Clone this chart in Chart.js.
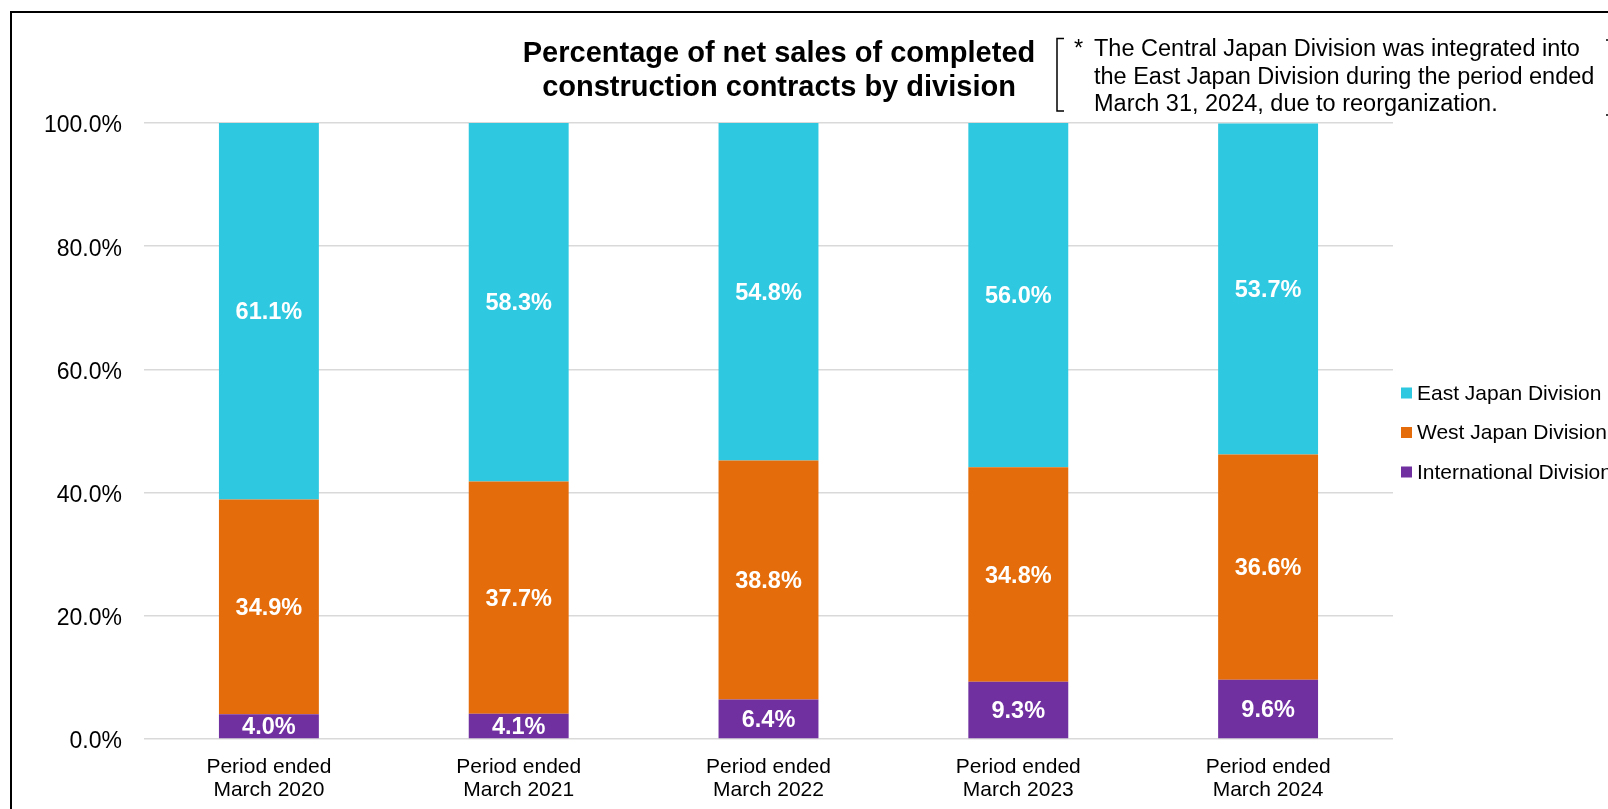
<!DOCTYPE html>
<html>
<head>
<meta charset="utf-8">
<script src="https://cdn.jsdelivr.net/npm/chart.js@4.4.1/dist/chart.umd.min.js"></script>
<style>
  html, body { margin: 0; padding: 0; background: #fff; overflow: hidden; }
  #chart { display: block; }
</style>
</head>
<body>
<canvas id="chart" width="1608" height="809"></canvas>
<script>
const categories = [
  ["Period ended", "March 2020"],
  ["Period ended", "March 2021"],
  ["Period ended", "March 2022"],
  ["Period ended", "March 2023"],
  ["Period ended", "March 2024"],
];
const eastJapan = [61.1, 58.3, 54.8, 56.0, 53.7];
const westJapan = [34.9, 37.7, 38.8, 34.8, 36.6];
const international = [4.0, 4.1, 6.4, 9.3, 9.6];

const titleLines = [
  "Percentage of net sales of completed",
  "construction contracts by division",
];
const noteLines = [
  "The Central Japan Division was integrated into",
  "the East Japan Division during the period ended",
  "March 31, 2024, due to reorganization.",
];

const FONT = "'Liberation Sans', Arial, sans-serif";

// labels inside each segment
const segmentLabels = {
  id: "segmentLabels",
  afterDatasetsDraw(chart) {
    const ctx = chart.ctx;
    ctx.save();
    ctx.fillStyle = "#fff";
    ctx.font = "bold 23.5px " + FONT;
    ctx.textAlign = "center";
    ctx.textBaseline = "middle";
    chart.data.datasets.forEach((ds, i) => {
      const meta = chart.getDatasetMeta(i);
      meta.data.forEach((bar, j) => {
        const { x, y, base } = bar.getProps(["x", "y", "base"], true);
        ctx.fillText(ds.data[j].toFixed(1) + "%", x, (y + base) / 2 + 1.5);
      });
    });
    ctx.restore();
  },
};

// frame, title, note and legend
const decor = {
  id: "decor",
  afterDraw(chart) {
    const ctx = chart.ctx;
    ctx.save();

    // outer frame (cut off on the right and bottom)
    ctx.strokeStyle = "#000";
    ctx.lineWidth = 2;
    ctx.beginPath();
    ctx.moveTo(11, 830);
    ctx.lineTo(11, 12);
    ctx.lineTo(1640, 12);
    ctx.stroke();

    // title
    ctx.fillStyle = "#000";
    ctx.font = "bold 29px " + FONT;
    ctx.textAlign = "center";
    ctx.textBaseline = "alphabetic";
    ctx.fillText(titleLines[0], 779, 62);
    ctx.fillText(titleLines[1], 779, 96);

    // note with brackets
    ctx.lineWidth = 1.5;
    ctx.beginPath();
    ctx.moveTo(1064, 38.5);
    ctx.lineTo(1057, 38.5);
    ctx.lineTo(1057, 111);
    ctx.lineTo(1064, 111);
    ctx.stroke();
    ctx.beginPath();
    ctx.moveTo(1606, 40);
    ctx.lineTo(1613, 40);
    ctx.lineTo(1613, 115);
    ctx.lineTo(1606, 115);
    ctx.stroke();

    ctx.font = "23.5px " + FONT;
    ctx.textAlign = "left";
    ctx.fillText("*", 1074, 56);
    noteLines.forEach((t, i) => ctx.fillText(t, 1094, 56 + i * 27.5));

    // legend, top item is the top of the stack
    const items = chart.data.datasets.slice().reverse();
    ctx.font = "21px " + FONT;
    ctx.textBaseline = "middle";
    items.forEach((ds, i) => {
      const cy = 393 + i * 39.5;
      ctx.fillStyle = ds.backgroundColor;
      ctx.fillRect(1401, cy - 5.5, 11, 11);
      ctx.fillStyle = "#000";
      ctx.fillText(ds.label, 1417, cy + 1);
    });

    ctx.restore();
  },
};

new Chart(document.getElementById("chart"), {
  type: "bar",
  data: {
    labels: categories,
    datasets: [
      { label: "International Division", data: international, backgroundColor: "#7030A0" },
      { label: "West Japan Division", data: westJapan, backgroundColor: "#E46C0A" },
      { label: "East Japan Division", data: eastJapan, backgroundColor: "#2EC8E1" },
    ],
  },
  options: {
    responsive: false,
    animation: false,
    devicePixelRatio: 1,
    datasets: { bar: { categoryPercentage: 1, barPercentage: 0.4 } },
    layout: { padding: { top: 123, right: 215, bottom: 0, left: 0 } },
    scales: {
      x: {
        stacked: true,
        grid: { display: false },
        border: { display: false },
        ticks: {
          color: "#000",
          font: { family: FONT, size: 21, lineHeight: 1.1 },
          padding: 9,
          maxRotation: 0,
          autoSkip: false,
        },
        afterFit: (s) => { s.height = 70; },
      },
      y: {
        stacked: true,
        min: 0,
        max: 100,
        grid: { color: "#d9d9d9", lineWidth: 1.5, drawTicks: false },
        border: { display: false },
        ticks: {
          stepSize: 20,
          color: "#000",
          font: { family: FONT, size: 23 },
          padding: 22,
          labelOffset: 3,
          callback: (v) => v.toFixed(1) + "%",
        },
        afterFit: (s) => { s.width = 144; },
      },
    },
    plugins: {
      legend: { display: false },
      tooltip: { enabled: false },
    },
  },
  plugins: [segmentLabels, decor],
});
</script>
</body>
</html>
